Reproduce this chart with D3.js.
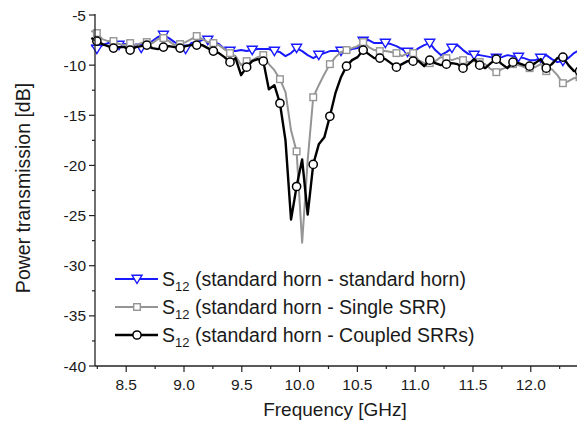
<!DOCTYPE html>
<html><head><meta charset="utf-8">
<script src="https://cdn.jsdelivr.net/npm/d3@7"></script>
<style>body{margin:0;background:#fff}svg{display:block}text{font-family:"Liberation Sans",Arial,sans-serif;fill:#1a1a1a}</style>
</head><body><svg id="c" width="577" height="425"></svg>
<script>
const freq = [8.198,8.246,8.294,8.342,8.390,8.438,8.486,8.534,8.582,8.630,8.678,8.726,8.774,8.822,8.870,8.918,8.966,9.014,9.062,9.110,9.158,9.206,9.254,9.302,9.350,9.398,9.446,9.494,9.542,9.590,9.638,9.686,9.734,9.782,9.830,9.878,9.926,9.974,10.022,10.070,10.118,10.166,10.214,10.262,10.310,10.358,10.406,10.454,10.502,10.550,10.598,10.646,10.694,10.742,10.790,10.838,10.886,10.934,10.982,11.030,11.078,11.126,11.174,11.222,11.270,11.318,11.366,11.414,11.462,11.510,11.558,11.606,11.654,11.702,11.750,11.798,11.846,11.894,11.942,11.990,12.038,12.086,12.134,12.182,12.230,12.278,12.326,12.374,12.422];
const s12Horn = [-8.0,-8.4,-8.0,-7.8,-7.9,-8.0,-7.9,-8.0,-8.1,-8.3,-8.1,-7.6,-7.2,-7.0,-7.3,-7.7,-8.0,-8.4,-7.8,-7.7,-7.5,-7.5,-7.6,-7.9,-8.4,-8.6,-8.6,-8.5,-8.6,-8.5,-8.4,-8.4,-8.4,-8.6,-8.7,-9.1,-8.8,-8.3,-8.6,-9.0,-9.3,-9.0,-8.8,-8.6,-8.6,-8.6,-8.6,-8.4,-8.3,-7.6,-7.5,-7.8,-7.8,-7.8,-7.9,-8.1,-8.4,-8.7,-8.7,-8.3,-8.0,-7.8,-8.5,-9.0,-8.7,-8.3,-8.0,-8.5,-8.9,-9.0,-9.0,-9.1,-9.2,-9.3,-9.2,-9.0,-9.1,-9.2,-9.3,-9.5,-9.5,-9.3,-9.0,-9.4,-9.7,-9.6,-9.3,-8.8,-8.5];
const s12Single = [-6.6,-6.8,-7.4,-7.6,-7.6,-7.9,-8.0,-7.8,-8.0,-7.8,-7.7,-7.8,-7.4,-7.3,-7.6,-8.0,-7.9,-7.7,-7.4,-7.1,-7.4,-7.7,-7.8,-8.0,-8.4,-8.8,-9.1,-10.0,-9.6,-9.5,-9.2,-9.0,-9.9,-10.5,-11.4,-12.7,-16.5,-18.6,-27.7,-19.5,-13.2,-12.0,-10.9,-9.9,-9.2,-8.7,-8.5,-8.3,-8.1,-7.7,-8.2,-8.5,-8.6,-8.6,-8.7,-8.8,-9.1,-8.8,-8.8,-9.5,-9.8,-9.8,-9.6,-9.2,-9.3,-9.5,-9.3,-9.5,-9.7,-9.6,-9.7,-9.9,-10.4,-10.7,-10.4,-10.2,-9.9,-10.0,-10.2,-10.3,-10.2,-9.9,-10.6,-10.4,-11.0,-11.8,-11.6,-11.3,-11.2];
const s12Coupled = [-7.3,-7.6,-7.9,-8.1,-8.3,-8.2,-8.2,-8.5,-8.2,-8.1,-8.0,-8.3,-8.4,-8.2,-8.1,-8.2,-8.3,-8.1,-8.0,-8.0,-8.0,-8.3,-8.6,-8.8,-9.2,-9.7,-9.3,-11.0,-10.2,-9.6,-9.4,-9.6,-12.4,-12.0,-13.8,-17.5,-25.4,-22.1,-19.4,-24.9,-19.9,-17.9,-17.2,-15.1,-12.8,-11.2,-10.1,-9.5,-9.2,-8.5,-8.9,-9.3,-9.3,-9.4,-9.8,-10.2,-9.9,-9.6,-9.6,-9.6,-10.1,-9.5,-9.8,-10.0,-9.9,-9.8,-9.9,-10.3,-9.9,-9.4,-10.0,-10.3,-9.8,-9.4,-9.9,-10.3,-9.7,-9.8,-10.0,-10.1,-9.8,-9.4,-10.3,-9.9,-9.3,-9.2,-10.0,-10.6,-10.6];
const xTicks = [8.5,9.0,9.5,10.0,10.5,11.0,11.5,12.0];
const yTicks = [-5,-10,-15,-20,-25,-30,-35,-40];
const legendLabels = ["(standard horn - standard horn)","(standard horn - Single SRR)","(standard horn - Coupled SRRs)"];

const svg = d3.select("#c");
const L=95,R=577,T=15,B=366;
const x = d3.scaleLinear().domain([8.23,12.4]).range([L,R]);
const y = d3.scaleLinear().domain([-40,-5]).range([B,T]);

svg.append("defs").append("clipPath").attr("id","clip").append("rect")
  .attr("x",L-6).attr("y",T-8).attr("width",R-L+6).attr("height",B-T+8);

const series = [
  {vals:s12Horn, color:"#1a1aff", w:2, marker:"tri", every:4, off:1},
  {vals:s12Single, color:"#959595", w:2, marker:"sq", every:3, off:1},
  {vals:s12Coupled, color:"#000", w:2.4, marker:"circ", every:3, off:1}
];
const line = d3.line().x((d,i)=>x(freq[i])).y(d=>y(d));
const g = svg.append("g").attr("clip-path","url(#clip)");
function drawMarker(sel, type, color, cx, cy){
  if(type==="tri"){
    sel.append("path").attr("d",`M${cx-5},${cy-3.8}L${cx+5},${cy-3.8}L${cx},${cy+4.5}Z`)
      .attr("fill","#fff").attr("stroke",color).attr("stroke-width",1.4);
  } else if(type==="sq"){
    sel.append("rect").attr("x",cx-3.3).attr("y",cy-3.3).attr("width",6.6).attr("height",6.6)
      .attr("fill","#fff").attr("stroke",color).attr("stroke-width",1.4);
  } else {
    sel.append("circle").attr("cx",cx).attr("cy",cy).attr("r",4.1)
      .attr("fill","#fff").attr("stroke",color).attr("stroke-width",1.5);
  }
}
series.forEach(s=>{
  g.append("path").datum(s.vals).attr("d",line).attr("fill","none")
    .attr("stroke",s.color).attr("stroke-width",s.w).attr("stroke-linejoin","round");
  s.vals.forEach((v,i)=>{ if(i%s.every===s.off) drawMarker(g,s.marker,s.color,x(freq[i]),y(v)); });
});

// axes
const ax = svg.append("g").attr("stroke","#222");
ax.append("line").attr("x1",L).attr("x2",L).attr("y1",T-1).attr("y2",B).attr("stroke-width",1.3);
ax.append("line").attr("x1",L).attr("x2",R).attr("y1",B).attr("y2",B).attr("stroke-width",1.3);
d3.range(-40,-4.9,2.5).forEach(v=>{
  const major = Math.abs(v%5)<1e-6;
  ax.append("line").attr("x1",L-(major?6:3)).attr("x2",L).attr("y1",y(v)).attr("y2",y(v)).attr("stroke-width",1.2);
});
d3.range(8.25,12.41,0.25).forEach(v=>{
  const major = Math.abs((v*2)%1)<1e-6;
  ax.append("line").attr("x1",x(v)).attr("x2",x(v)).attr("y1",B).attr("y2",B+(major?6:3)).attr("stroke-width",1.2);
});
svg.selectAll(".yl").data(yTicks).enter().append("text").attr("x",L-9).attr("y",d=>y(d)+5.5)
  .attr("text-anchor","end").attr("font-size",15.5).text(d=>d);
svg.selectAll(".xl").data(xTicks).enter().append("text").attr("x",d=>x(d)).attr("y",B+24)
  .attr("text-anchor","middle").attr("font-size",15.5).text(d=>d.toFixed(1));
svg.append("text").attr("x",335).attr("y",416).attr("text-anchor","middle").attr("font-size",19).text("Frequency [GHz]");
svg.append("text").attr("transform","translate(30,188) rotate(-90)").attr("text-anchor","middle").attr("font-size",19.5).text("Power transmission [dB]");

// legend
const ly=[279,307,335];
series.forEach((s,k)=>{
  svg.append("line").attr("x1",115).attr("x2",158).attr("y1",ly[k]).attr("y2",ly[k])
    .attr("stroke",s.color).attr("stroke-width",s.w);
  drawMarker(svg,s.marker,s.color,137,ly[k]);
  const t = svg.append("text").attr("x",162).attr("y",ly[k]+6.5).attr("font-size",19.5);
  t.append("tspan").text("S");
  t.append("tspan").attr("dy",5).attr("font-size",13).text("12");
  t.append("tspan").attr("dy",-5).text(" "+legendLabels[k]);
});
</script></body></html>
